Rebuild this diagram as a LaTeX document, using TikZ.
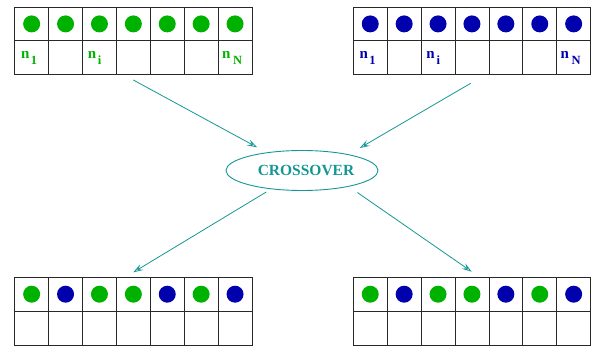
\documentclass[tikz,border=0pt]{standalone}
\usepackage{fontspec}
\setmainfont{Liberation Serif}
\usetikzlibrary{shapes.geometric,arrows.meta}
\definecolor{gr}{RGB}{0,178,0}
\definecolor{bl}{RGB}{0,0,172}
\definecolor{tl}{RGB}{20,150,150}
\definecolor{gridc}{RGB}{40,40,40}
\tikzset{
  cell/.style={draw=gridc, line width=0.8pt, minimum width=33.9pt, minimum height=33.8pt, inner sep=0pt, outer sep=0pt},
  dot/.style={circle, minimum size=17pt, inner sep=0pt},
  lab/.style={anchor=base west, inner sep=0pt, font=\bfseries},
  conn/.style={draw=tl, line width=0.8pt, -{Stealth[open, length=10pt, width=6.5pt, inset=4pt]}},
  crossbox/.style={ellipse, draw=tl, line width=0.9pt, minimum width=152pt, minimum height=40pt, inner sep=0pt},
}
\newcommand\chromo[4]{%
  \foreach \c [count=\i] in {#4} {
    \node[cell] (#1c\i) at ({#2+16.95+(\i-1)*33.9},{#3+16.9}) {};
    \node[cell] (#1l\i) at ({#2+16.95+(\i-1)*33.9},{#3+50.7}) {};
    \node[dot, fill=\c] (#1d\i) at (#1c\i) {};
  }}
\newcommand\nlab[2]{{\fontsize{15}{15}\selectfont n}\hspace{#2}\raisebox{-6pt}{\fontsize{12.5}{12.5}\selectfont #1}}
\begin{document}
\begin{tikzpicture}[x=1pt,y=-1pt]
\useasboundingbox (0,0) rectangle (592,348);
\chromo{P}{14.7}{7}{gr,gr,gr,gr,gr,gr,gr}
\chromo{Q}{353.3}{7}{bl,bl,bl,bl,bl,bl,bl}
\chromo{A}{14.7}{277.3}{gr,bl,gr,gr,bl,gr,bl}
\chromo{B}{353.3}{277.3}{gr,bl,gr,gr,bl,gr,bl}
% labels
\node[lab, text=gr] (Pn1) at ([xshift=6.1pt,yshift=-0.7pt]Pl1.west) {\nlab{1}{1.5pt}};
\node[lab, text=gr] (Pni) at ([xshift=5.1pt,yshift=-0.7pt]Pl3.west) {\nlab{i}{1.8pt}};
\node[lab, text=gr] (PnN) at ([xshift=3.8pt,yshift=-0.7pt]Pl7.west) {\nlab{N}{2.6pt}};
\node[lab, text=bl] (Qn1) at ([xshift=6.1pt,yshift=-0.7pt]Ql1.west) {\nlab{1}{1.5pt}};
\node[lab, text=bl] (Qni) at ([xshift=5.1pt,yshift=-0.7pt]Ql3.west) {\nlab{i}{1.8pt}};
\node[lab, text=bl] (QnN) at ([xshift=3.8pt,yshift=-0.7pt]Ql7.west) {\nlab{N}{2.6pt}};
% crossover
\node[crossbox] (X) at (302,170.5) {};
\node[text=tl, inner sep=0pt, font=\bfseries\fontsize{15.5}{15.5}\selectfont] (XT) at (306,170.8) {CROSSOVER};
% connectors
\coordinate (s1) at (133.3,80);
\coordinate (s2) at (470.7,83.3);
\coordinate (e3) at (133.3,272.3);
\coordinate (e4) at (471.7,271.7);
\draw[conn, shorten >=10.7pt] (s1) -- (X.153.8);
\draw[conn, shorten >=12.5pt] (s2) -- (X.19);
\draw[conn, shorten <=5.4pt] (X.211.8) -- (e3);
\draw[conn, shorten <=10.4pt] (X.-19) -- (e4);
\end{tikzpicture}
\end{document}
